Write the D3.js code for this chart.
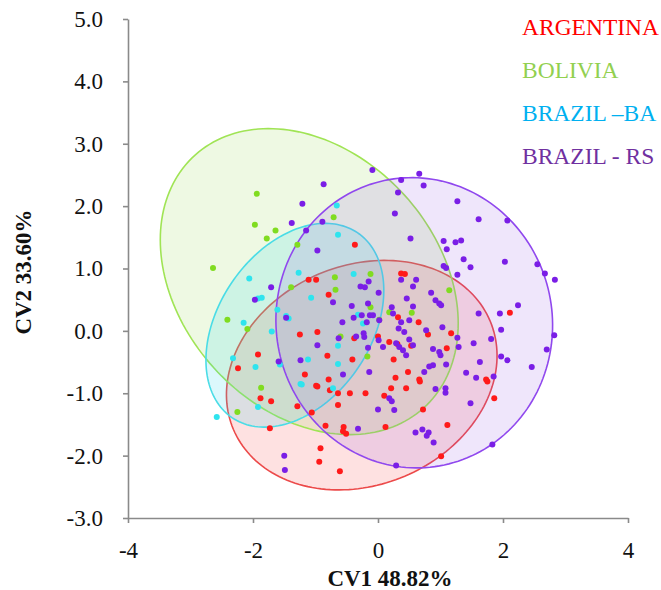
<!DOCTYPE html>
<html>
<head>
<meta charset="utf-8">
<script src="https://cdn.jsdelivr.net/npm/d3@7"></script>
<style>
  body { margin: 0; background: #fff; }
  text { font-family: "Liberation Serif", "Times New Roman", serif; }
</style>
</head>
<body>
<div id="chart"></div>
<script>
// groups shown in the legend
const groups = ["ARGENTINA", "BOLIVIA", "BRAZIL \u2013BA", "BRAZIL - RS"];

// canonical variate scores [CV1, CV2]
const argentina = [
  [-1.88,-1.08],[-1.71,-1.13],[-1.29,-1.21],[-1.06,-1.31],[-1.73,-1.56],[-0.97,-0.89],[-0.77,-0.95],
  [-0.64,-1.0],[-0.64,-1.19],[-0.45,-1.0],[-0.20,-1.0],[0.10,-1.04],[0.21,-0.92],[0.45,-0.92],
  [0.67,-0.81],[0.72,-1.26],[1.11,-1.51],[1.86,-1.08],[1.75,-0.81],[-0.84,-1.52],[-0.55,-1.54],
  [-0.56,-1.61],[-0.51,-1.65],[0.12,-1.54],[-0.92,-1.88],[-0.94,-2.10],[-0.61,-2.25],[1.01,-2.01],
  [-0.37,1.38],[-1.11,0.82],[-0.99,0.82],[-0.79,0.58],[-1.25,-0.06],[-0.97,-0.02],[0.37,0.92],
  [0.43,0.91],[0.32,0.22],[0.65,0.14],[0.80,-0.06],[1.17,-0.04],[2.11,0.29],[0.0,-0.09],
  [1.10,-0.28],[1.73,-0.78],[0.53,-0.24],[0.25,-0.46],[0.48,-0.66],[0.66,-0.78],[0.28,-0.75],
  [0.18,-0.18],[-0.38,-0.12],[-0.41,-0.46],[-0.81,-0.40],[-1.17,-0.70],[-0.79,-0.78],[-0.99,-0.88],
  [-1.92,-0.38],[-2.24,-0.60],[0.31,-0.21]
];
const bolivia = [
  [-1.94,2.20],[-1.97,1.70],[-1.64,1.61],[-1.78,1.48],[-0.71,1.82],[-1.29,1.38],[-2.64,1.01],
  [-1.39,0.70],[-0.69,0.86],[-0.68,0.66],[-0.12,0.91],[-2.41,0.18],[-2.09,0.03],[-0.12,0.38],
  [-0.60,-0.09],[1.14,0.65],[0.18,0.30],[0.54,0.29],[0.02,0.18],[-0.17,-0.41],[-1.87,-0.91],
  [-2.25,-1.30]
];
const brazilBA = [
  [-0.66,2.01],[-0.64,1.54],[-1.27,0.93],[-2.06,0.84],[-1.92,0.52],[-1.86,0.53],[-1.07,0.53],
  [-0.39,0.91],[-1.61,0.34],[-2.15,0.13],[-1.70,-0.01],[-1.43,0.20],[-1.47,0.24],[-0.24,0.12],
  [-0.32,0.26],[-2.32,-0.44],[-1.96,-0.58],[-1.57,-0.54],[-1.12,-0.46],[-0.64,-0.24],[-0.64,-0.53],
  [-1.24,-0.85],[-2.58,-1.38],[-1.92,-1.22],[-1.22,-0.86],[-0.72,-0.92]
];
const brazilRS = [
  [-1.50,-2.0],[-1.49,-2.23],[-0.32,-1.57],[0.0,-1.26],[0.18,-1.08],[0.22,-1.13],[0.26,-1.27],
  [0.92,-0.93],[1.08,-0.92],[1.08,-0.99],[1.48,-1.16],[0.60,-1.63],[0.71,-1.58],[0.78,-1.68],
  [0.81,-1.63],[0.89,-1.79],[1.83,-1.82],[0.29,-2.16],
  [-0.09,2.58],[-0.87,2.35],[-1.21,2.04],[-1.38,1.73],[-0.89,1.75],[-1.15,1.61],[-0.97,1.29],
  [-1.71,0.70],[-1.97,0.50],[-1.47,0.21],[-0.28,0.71],[-0.21,0.70],[-0.15,0.79],[-0.72,0.46],
  [-0.42,0.40],[-0.16,0.44],[-0.57,0.14],[-0.39,0.21],[-0.13,0.25],[-0.18,0.14],[-0.23,-0.04],
  [-0.63,-0.12],[-0.35,-0.09],
  [0.66,2.52],[0.37,2.42],[0.73,2.33],[0.32,2.22],[1.27,2.08],[0.27,1.88],[1.61,1.79],
  [2.07,1.77],[0.52,1.48],[1.05,1.44],[1.24,1.42],[1.33,1.45],[1.10,1.31],[1.37,1.15],
  [1.48,1.02],[2.03,1.11],[1.05,1.04],[1.09,1.01],[1.27,0.90],[2.55,1.07],[2.67,0.92],
  [2.83,0.82],[2.24,0.41],[1.95,0.28],[1.61,0.28],[1.97,0.02],[2.82,-0.07],[1.81,-0.13],
  [0.01,0.61],[0.37,0.82],[0.56,0.71],[0.61,0.82],[0.46,0.52],[0.56,0.39],[0.22,0.38],
  [0.24,0.28],[0.37,0.14],[0.85,0.61],[0.92,0.49],[0.98,0.44],[1.01,0.41],[0.50,0.17],
  [0.77,0.01],[1.03,0.06],[-0.08,0.25],[0.02,0.17],[0.33,0.04],[0.42,-0.02],
  [2.70,-0.30],[2.46,-0.58],[1.97,-0.41],[2.07,-0.47],[1.53,-0.20],[1.63,-0.50],[1.41,-0.67],
  [1.57,-0.75],[1.85,-0.73],[1.27,-0.11],[1.29,-0.26],[0.74,-0.66],[0.82,-0.57],[0.88,-0.55],
  [1.09,-0.54],[0.88,-0.29],[0.98,-0.34],[1.00,-0.39],[0.50,-0.14],[0.56,-0.23],[0.29,-0.20],
  [0.34,-0.26],[0.40,-0.31],[0.45,-0.39],[0.01,-0.15],[0.08,-0.26],[-0.14,-0.66],
  [-1.59,-0.49],[-1.24,-0.47],[-0.97,-0.23],[-0.56,-0.70],[-0.26,0.25],[-0.22,-0.10],[-0.16,-0.27]
];

// 95% ellipses: centre, semi axes and rotation (degrees), in CV units
const ellipseCx = [-0.26, -1.10, -1.33, 0.58];
const ellipseCy = [-0.71, 0.79, 0.09, 0.13];
const ellipseA = [2.23, 2.73, 1.79, 2.21];
const ellipseB = [1.76, 2.06, 1.22, 2.33];
const ellipseAngle = [23, -48, 56, 10];

const xTicks = [-4, -2, 0, 2, 4];
const yTicks = [-3, -2, -1, 0, 1, 2, 3, 4, 5];

const width = 661, height = 590;
const legendColors = ["#ff0000", "#92d050", "#00b0f0", "#7030a0"];
const pointColors = ["#ff1a1a", "#80dc20", "#2ee4ee", "#7a1ee6"];
const strokeColors = ["#ec4a4a", "#a0e455", "#4adce6", "#9048ee"];
const fillColors = ["rgba(250,40,40,0.14)", "rgba(150,215,80,0.16)",
                    "rgba(40,210,235,0.16)", "rgba(140,80,225,0.14)"];

const svg = d3.select("#chart").append("svg")
  .attr("width", width)
  .attr("height", height);

const x = d3.scaleLinear().domain([-4, 4]).range([128, 628]);
const y = d3.scaleLinear().domain([-3, 5]).range([518, 19]);

// ellipses
const line = d3.line().curve(d3.curveLinearClosed);
groups.forEach((g, i) => {
  const th = ellipseAngle[i] * Math.PI / 180;
  const pts = d3.range(0, 2 * Math.PI, Math.PI / 90).map(t => {
    const ex = ellipseCx[i] + ellipseA[i] * Math.cos(th) * Math.cos(t) - ellipseB[i] * Math.sin(th) * Math.sin(t);
    const ey = ellipseCy[i] + ellipseA[i] * Math.sin(th) * Math.cos(t) + ellipseB[i] * Math.cos(th) * Math.sin(t);
    return [x(ex), y(ey)];
  });
  svg.append("path")
    .attr("d", line(pts))
    .attr("fill", fillColors[i])
    .attr("stroke", strokeColors[i])
    .attr("stroke-width", 1.6);
});

// axes
const yAxis = svg.append("g")
  .attr("transform", "translate(128,0)")
  .call(d3.axisLeft(y).tickValues(yTicks).tickFormat(d => d.toFixed(1))
    .tickSize(5).tickSizeOuter(0).tickPadding(20));
const xAxis = svg.append("g")
  .attr("transform", "translate(0,518)")
  .call(d3.axisBottom(x).tickValues(xTicks).tickFormat(d => String(d))
    .tickSize(5).tickSizeOuter(0).tickPadding(19));

[xAxis, yAxis].forEach(a => {
  a.selectAll("path, line").attr("stroke", "#8a8a8a").attr("stroke-width", 1.6);
  a.selectAll("text")
    .attr("fill", "#111")
    .style("font-family", "'Liberation Serif', 'Times New Roman', serif")
    .style("font-size", "23px");
});

// points
const series = [argentina, bolivia, brazilBA, brazilRS];
series.forEach((data, i) => {
  svg.append("g").selectAll("circle")
    .data(data)
    .enter()
    .append("circle")
    .attr("cx", d => x(d[0]))
    .attr("cy", d => y(d[1]))
    .attr("r", 3)
    .attr("fill", pointColors[i]);
});

// axis titles
svg.append("text")
  .attr("x", 390)
  .attr("y", 586)
  .attr("text-anchor", "middle")
  .style("font-size", "23px")
  .style("font-weight", "bold")
  .attr("fill", "#111")
  .text("CV1 48.82%");

svg.append("text")
  .attr("transform", "translate(31,272) rotate(-90)")
  .attr("text-anchor", "middle")
  .style("font-size", "23px")
  .style("font-weight", "bold")
  .attr("fill", "#111")
  .text("CV2 33.60%");

// legend
svg.append("g").selectAll("text")
  .data(groups)
  .enter()
  .append("text")
  .attr("x", 522)
  .attr("y", (d, i) => 35 + i * 43)
  .attr("fill", (d, i) => legendColors[i])
  .style("font-size", "23.5px")
  .text(d => d);
</script>
</body>
</html>
